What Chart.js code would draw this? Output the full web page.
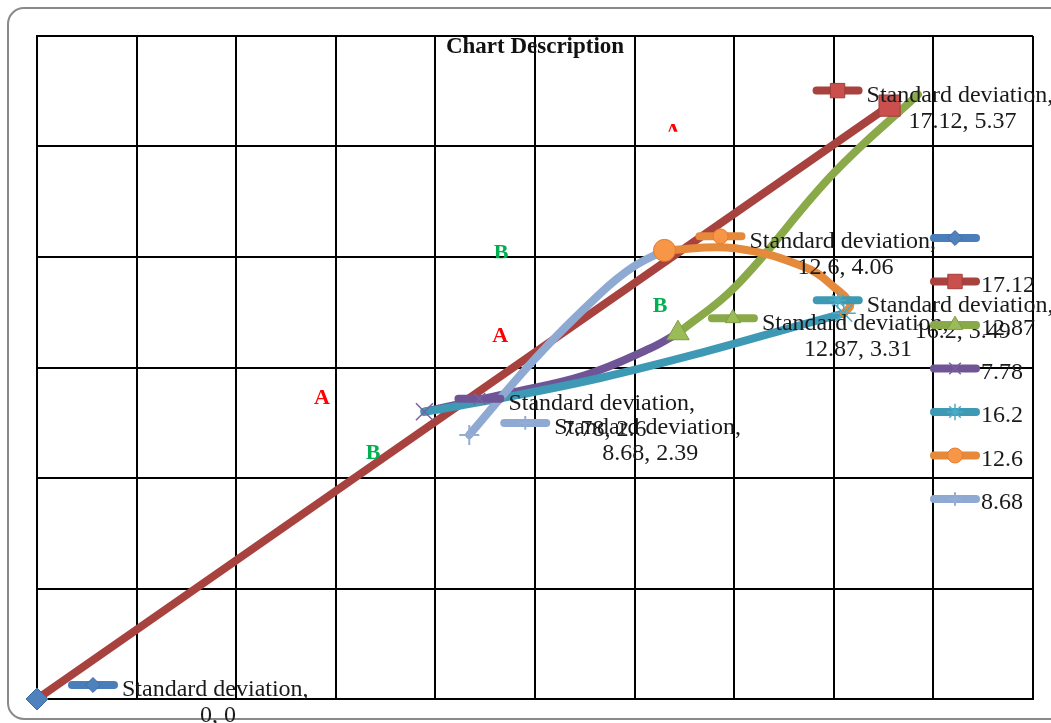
<!DOCTYPE html>
<html>
<head>
<meta charset="utf-8">
<script src="https://cdn.jsdelivr.net/npm/chart.js@4.4.1/dist/chart.umd.min.js"></script>
<style>
  html, body { margin: 0; padding: 0; background: #fff; }
  #wrap { width: 1051px; height: 723px; }
</style>
</head>
<body>
<div id="wrap"><canvas id="chart" width="1051" height="723"></canvas></div>
<script>
// labelled points (legend name = series name)
const seriesNames = ["", "17.12", "12.87", "7.78", "16.2", "12.6", "8.68"];
const pointX = [0, 17.12, 12.87, 7.78, 16.2, 12.6, 8.68];
const pointY = [0, 5.37, 3.31, 2.6, 3.49, 4.06, 2.39];

// curves
const redX = [0, 17.12];
const redY = [0, 5.37];
const greenX = [12.87, 14.02, 16.0, 17.69];
const greenY = [3.31, 3.73, 4.76, 5.47];
const purpleX = [7.78, 9.5, 11.0, 12.3, 12.87];
const purpleY = [2.6, 2.77, 2.93, 3.17, 3.31];
const tealX = [7.78, 9.3, 11.31, 13.31, 15.46, 16.2];
const tealY = [2.6, 2.72, 2.905, 3.13, 3.40, 3.49];
const orangeX = [12.6, 14.02, 15.46, 16.0, 16.33, 16.2];
const orangeY = [4.06, 4.08, 3.90, 3.73, 3.57, 3.49];
const lightX = [8.68, 10.0, 11.31, 11.97, 12.6];
const lightY = [2.39, 3.08, 3.67, 3.91, 4.06];

// A / B notes on the plot
const noteText = ["A", "A", "A", "B", "B", "B"];
const noteX = [5.72, 9.30, 12.77, 6.75, 9.32, 12.51];
const noteY = [2.73, 3.29, 5.14, 2.23, 4.04, 3.56];

// styles, index follows seriesNames
const lineColor = ["#4A7EBB", "#A8423F", "#8AAA4A", "#6F5596", "#3E9AB4", "#E5893A", "#8EA9D2"];
const markFill = ["#4F81BD", "#C9504D", "#9BBB59", "#7A5FA0", "#4BACC6", "#F79646", "#95ACD4"];
const markStroke = ["#3C6DA8", "#A23E3B", "#7E9D42", "#7A5FA0", "#4BACC6", "#E57C2A", "#95ACD4"];
const markStyle = ["rectRot", "rect", "triangle", "crossRot", "star", "circle", "cross"];
const markRadius = [11, 15, 13, 12, 12, 11, 10];
const markBorder = [1, 1, 1, 1.5, 1.5, 1, 2];
const labelDX = [31, -77, 30, 30, -31, 31, 31];
const labelDY = [-14, -15, -15, -13, -13, -14, -12];
const noteShown = [1, 1, 0.55, 1, 0.85, 1];

const FONT = '"Liberation Serif", "Times New Roman", serif';

function pts(xs, ys) { return xs.map((x, i) => ({ x: x, y: ys[i] })); }

function lineSet(i, xs, ys, order) {
  return {
    data: pts(xs, ys), showLine: true, tension: 0.4,
    borderColor: lineColor[i], borderWidth: 8,
    borderCapStyle: "round", borderJoinStyle: "round",
    pointRadius: 0, order: order, clip: false
  };
}

function markSet(i) {
  return {
    data: [{ x: pointX[i], y: pointY[i] }], showLine: false,
    pointStyle: markStyle[i], pointRadius: markRadius[i],
    backgroundColor: markFill[i], borderColor: markStroke[i], borderWidth: markBorder[i],
    order: 0, clip: false
  };
}

function drawMark(ctx, i, x, y, k) {
  ctx.save();
  ctx.fillStyle = markFill[i];
  ctx.strokeStyle = markStroke[i];
  ctx.lineWidth = markBorder[i];
  Chart.helpers.drawPoint(ctx, { pointStyle: markStyle[i], radius: markRadius[i] * k, rotation: 0, borderWidth: markBorder[i] }, x, y);
  ctx.restore();
}

function drawKey(ctx, i, x0, y) {
  ctx.save();
  ctx.strokeStyle = lineColor[i];
  ctx.lineWidth = 8;
  ctx.lineCap = "round";
  ctx.beginPath();
  ctx.moveTo(x0 + 4, y);
  ctx.lineTo(x0 + 46, y);
  ctx.stroke();
  ctx.restore();
  drawMark(ctx, i, x0 + 25, y, 0.68);
}

const extras = {
  id: "extras",
  beforeDraw(chart) {
    const ctx = chart.ctx;
    ctx.save();
    ctx.fillStyle = "#fff";
    ctx.fillRect(0, 0, chart.width, chart.height);
    ctx.strokeStyle = "#8a8a8a";
    ctx.lineWidth = 2;
    ctx.beginPath();
    ctx.roundRect(8, 8, 1100, 711, 16);
    ctx.stroke();
    ctx.restore();
  },
  afterDraw(chart) {
    const ctx = chart.ctx;
    const xs = chart.scales.x, ys = chart.scales.y;
    ctx.save();
    // title
    ctx.fillStyle = "#111";
    ctx.font = "bold 23px " + FONT;
    ctx.textAlign = "center";
    ctx.textBaseline = "alphabetic";
    ctx.fillText("Chart Description", 535, 53);

    // A / B notes
    ctx.font = "bold 22px " + FONT;
    noteText.forEach((t, n) => {
      const px = xs.getPixelForValue(noteX[n]);
      const py = ys.getPixelForValue(noteY[n]);
      ctx.save();
      ctx.beginPath();
      ctx.rect(px - 20, py - 8, 40, 16 * noteShown[n]);
      ctx.clip();
      ctx.fillStyle = t === "A" ? "#FF0000" : "#00B050";
      ctx.textAlign = "center";
      ctx.textBaseline = "middle";
      ctx.fillText(t, px, py + 1);
      ctx.restore();
    });

    // data labels with legend key
    ctx.font = "24px " + FONT;
    ctx.textBaseline = "middle";
    for (let i = 0; i < seriesNames.length; i++) {
      const px = xs.getPixelForValue(pointX[i]);
      const py = ys.getPixelForValue(pointY[i]);
      const kx = px + labelDX[i], ky = py + labelDY[i];
      drawKey(ctx, i, kx, ky);
      ctx.fillStyle = "#1a1a1a";
      ctx.textAlign = "left";
      ctx.fillText("Standard deviation,", kx + 54, ky + 5);
      ctx.textAlign = "center";
      ctx.fillText(pointX[i] + ", " + pointY[i], kx + 150, ky + 31);
    }

    // legend
    ctx.textAlign = "left";
    for (let i = 0; i < seriesNames.length; i++) {
      const ly = 238 + i * 43.5;
      drawKey(ctx, i, 930, ly);
      ctx.fillStyle = "#1a1a1a";
      ctx.fillText(seriesNames[i], 981, ly + 4);
    }
    ctx.restore();
  }
};

const datasets = [
  markSet(0), markSet(1), markSet(2), markSet(3), markSet(4), markSet(5), markSet(6),
  lineSet(1, redX, redY, 6),
  lineSet(2, greenX, greenY, 5),
  lineSet(3, purpleX, purpleY, 4),
  lineSet(4, tealX, tealY, 3),
  lineSet(5, orangeX, orangeY, 2),
  lineSet(6, lightX, lightY, 1)
];

const axisGrid = { color: "#000", lineWidth: 2, drawTicks: false };
const axisBorder = { color: "#000", width: 2 };

new Chart(document.getElementById("chart").getContext("2d"), {
  type: "scatter",
  data: { datasets: datasets },
  options: {
    responsive: false,
    animation: false,
    layout: { padding: { left: 37, top: 36, right: 18, bottom: 24 } },
    plugins: { legend: { display: false }, tooltip: { enabled: false }, title: { display: false } },
    scales: {
      x: { type: "linear", min: 0, max: 20, ticks: { display: false, stepSize: 2 }, grid: axisGrid, border: axisBorder },
      y: { type: "linear", min: 0, max: 6, ticks: { display: false, stepSize: 1 }, grid: axisGrid, border: axisBorder }
    }
  },
  plugins: [extras]
});
</script>
</body>
</html>
